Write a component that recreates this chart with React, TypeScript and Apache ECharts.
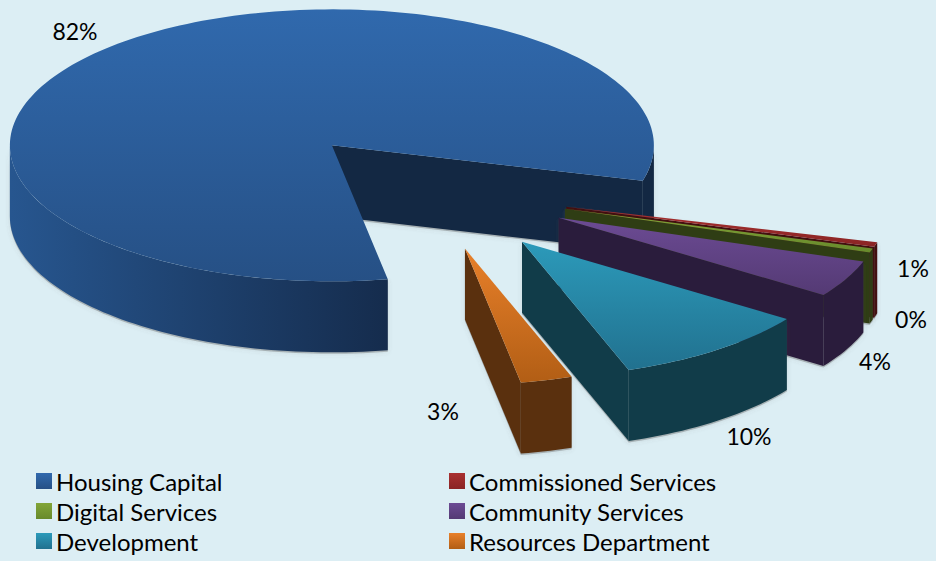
import React, { useEffect, useRef } from "react";
import * as echarts from "echarts";

const categories = ["Housing Capital", "Commissioned Services", "Digital Services", "Community Services", "Development", "Resources Department"];
const values = [82.0, 0.55, 0.49, 4.4, 10.0, 2.6];

const topColors = [["#3069AD", "#265085"], ["#A93030", "#8A2424"], ["#82A538", "#688A2C"], ["#6C4B94", "#543A74"], ["#2C9ABA", "#21718F"], ["#E8802A", "#B25E15"]];
const wallColors = [["#27568F", "#152C4D"], ["#4A1212", "#3A0D0D"], ["#334216", "#2D3A13"], ["#2C1E40", "#231630"], ["#0F3540", "#0F303B"], ["#5F3410", "#522C0C"]];
const cutColors = ["#132843", "#420F0F", "#2F3D14", "#2A1C3C", "#113C49", "#5A300E"];
const labelCentres = [[75, 31], [913, 268], [911, 319], [875, 361], [749, 436], [443, 411]];
const explodeBy = [0.445, 0.445, 0.445, 0.452, 0.478, 0.445];

const PIE = { cx: 428.6, cy: 190, rx: 322, ry: 136, depth: 71, startDeg: 80 };
const total = values.reduce((a, b) => a + b, 0);
const rad = (d: number) => (d * Math.PI) / 180;

function angles(i: number) {
  const before = values.slice(0, i).reduce((a, b) => a + b, 0);
  const a0 = PIE.startDeg + (before / total) * 360;
  return [a0, a0 + (values[i] / total) * 360];
}

function renderSlice(i: number) {
  return () => {
    const [a0, a1] = angles(i);
    const mid = rad((a0 + a1) / 2);
    const ax = PIE.cx + explodeBy[i] * PIE.rx * Math.cos(mid);
    const ay = PIE.cy + explodeBy[i] * PIE.ry * Math.sin(mid);
    const rim = (deg: number, drop = 0): number[] => [ax + PIE.rx * Math.cos(rad(deg)), ay + PIE.ry * Math.sin(rad(deg)) + drop];
    const arc = (from: number, to: number, drop = 0) => {
      const n = Math.max(2, Math.ceil(Math.abs(to - from) / 1.5));
      const pts: number[][] = [];
      for (let k = 0; k <= n; k++) pts.push(rim(from + ((to - from) * k) / n, drop));
      return pts;
    };
    const children: any[] = [];
    const hgrad = (c: string[]) => new echarts.graphic.LinearGradient(0, 0, 1, 0, [{ offset: 0, color: c[0] }, { offset: 1, color: c[1] }]);

    const ranges: number[][] = [];
    for (const base of [0, 360]) {
      const from = Math.max(a0, base);
      const to = Math.min(a1, base + 180);
      if (to > from) ranges.push([from, to, base]);
    }
    const radial = (deg: number) => {
      const r = rim(deg);
      return [[ax, ay], r, [r[0], r[1] + PIE.depth], [ax, ay + PIE.depth]];
    };
    const wallPolys: number[][][] = [];
    if (Math.cos(rad(a1)) > 0) wallPolys.push(radial(a1));
    if (-Math.cos(rad(a0)) > 0) wallPolys.push(radial(a0));
    const outerPolys = ranges.map(([f, t]) => [...arc(f, t), ...arc(t, f, PIE.depth)]);

    [...wallPolys, ...outerPolys].forEach((points) => {
      children.push({
        type: "polygon",
        shape: { points: points.map((p) => [p[0], p[1] + 1.5]) },
        style: { fill: "rgba(90,90,90,0.35)", shadowBlur: 5, shadowColor: "rgba(90,90,90,0.45)" },
        silent: true,
      });
    });
    wallPolys.forEach((points) => {
      children.push({ type: "polygon", shape: { points }, style: { fill: cutColors[i] } });
    });
    outerPolys.forEach((points, k) => {
      children.push({ type: "polygon", shape: { points }, style: { fill: ranges[k][2] === 360 ? cutColors[i] : hgrad(wallColors[i]) } });
    });
    children.push({
      type: "polygon",
      shape: { points: [[ax, ay], ...arc(a0, a1)] },
      style: {
        fill: new echarts.graphic.LinearGradient(0, 0, 0, 1, [{ offset: 0, color: topColors[i][0] }, { offset: 1, color: topColors[i][1] }]),
      },
    });
    children.push({
      type: "text",
      style: {
        text: `${Math.round((values[i] / total) * 100)}%`,
        x: labelCentres[i][0],
        y: labelCentres[i][1],
        align: "center",
        verticalAlign: "middle",
        fill: "#000",
        fontSize: 23,
        fontFamily: "Lato",
      },
    });
    return { type: "group", children };
  };
}

const legendBase = {
  orient: "vertical" as const,
  top: 469,
  height: 92,
  itemWidth: 16,
  itemHeight: 16,
  itemGap: 6,
  icon: "rect",
  padding: 0,
  textStyle: { fontSize: 24, fontFamily: "Lato", color: "#000", padding: [0, 0, 0, -1] },
};

export default function App() {
  const ref = useRef<HTMLDivElement>(null);
  useEffect(() => {
    const chart = echarts.init(ref.current!, undefined, { renderer: "svg" });
    chart.setOption({
      animation: false,
      backgroundColor: "#DCEEF4",
      legend: [
        { ...legendBase, left: 36, data: [categories[0], categories[2], categories[4]] },
        { ...legendBase, left: 449, data: [categories[1], categories[3], categories[5]] },
      ],
      series: categories.map((name, i) => ({
        type: "custom",
        name,
        coordinateSystem: "none",
        data: [[values[i]]],
        itemStyle: {
          color: new echarts.graphic.LinearGradient(0, 0, 0, 1, [{ offset: 0, color: topColors[i][0] }, { offset: 1, color: topColors[i][1] }]),
        },
        renderItem: renderSlice(i),
      })),
    });
    return () => chart.dispose();
  }, []);
  return <div ref={ref} style={{ position: "absolute", left: 0, top: 0, width: 936, height: 561 }} />;
}
